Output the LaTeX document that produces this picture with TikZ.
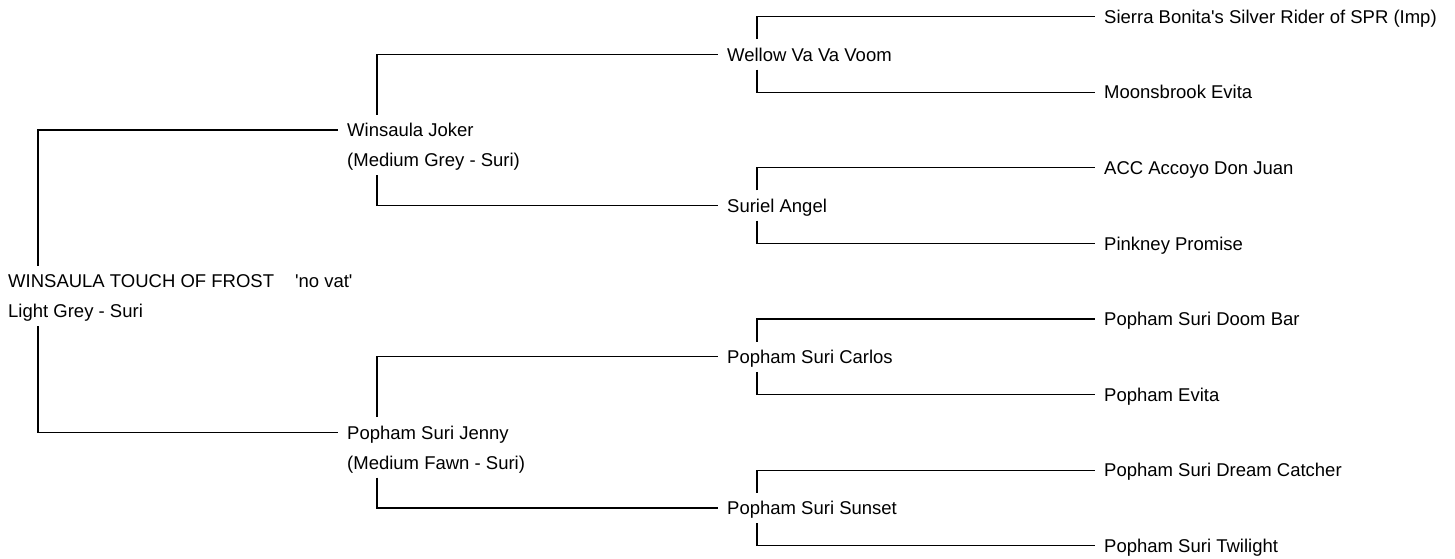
\documentclass[tikz,border=0pt]{standalone}
\usepackage{fontspec}
\setmainfont{Liberation Sans}[Ligatures=TeXOff]
\usepackage{tikz}

\begin{document}
\begin{tikzpicture}[x=1pt, y=-1pt,
        horse/.style={anchor=west, inner xsep=0pt, inner ysep=8.3pt, text height=13.4pt, text depth=0pt, font=\fontsize{18.5}{22}\selectfont},
        link/.style={line width=1.2pt, shorten >=9pt}]
        \useasboundingbox (0,0) rectangle (1455,558);

        \node [horse] (frost) at (8,281.1) {WINSAULA TOUCH OF FROST\hspace{21pt}'no vat'};
        \node [horse] (frostc) at ([yshift=-30pt]frost.west) {Light Grey - Suri};

        \node [horse] (joker) at (347,129.9) {Winsaula Joker};
        \node [horse] (jokerc) at ([yshift=-30pt]joker.west) {(Medium Grey - Suri)};
        \node [horse] (jenny) at (347,432.3) {Popham Suri Jenny};
        \node [horse] (jennyc) at ([yshift=-30pt]jenny.west) {(Medium Fawn - Suri)};

        \node [horse] (wellow) at (727,54.3) {Wellow Va Va Voom};
        \node [horse] (suriel) at (727,205.5) {Suriel Angel};
        \node [horse] (carlos) at (727,356.7) {Popham Suri Carlos};
        \node [horse] (sunset) at (727,507.9) {Popham Suri Sunset};

        \node [horse] (sierra) at (1104,16.5) {Sierra Bonita's Silver Rider of SPR (Imp)};
        \node [horse] (moons) at (1104,92.1) {Moonsbrook Evita};
        \node [horse] (donjuan) at (1104,167.7) {ACC Accoyo Don Juan};
        \node [horse] (pinkney) at (1104,243.3) {Pinkney Promise};
        \node [horse] (doombar) at (1104,318.9) {Popham Suri Doom Bar};
        \node [horse] (evita) at (1104,394.5) {Popham Evita};
        \node [horse] (dream) at (1104,470.1) {Popham Suri Dream Catcher};
        \node [horse] (twilight) at (1104,545.7) {Popham Suri Twilight};

        \draw [link] ([xshift=30pt]frost.north west) |- (joker.west);
        \draw [link] ([xshift=30pt]frostc.south west) |- (jenny.west);

        \draw [link] ([xshift=30pt]joker.north west) |- (wellow.west);
        \draw [link] ([xshift=30pt]jokerc.south west) |- (suriel.west);
        \draw [link] ([xshift=30pt]jenny.north west) |- (carlos.west);
        \draw [link] ([xshift=30pt]jennyc.south west) |- (sunset.west);

        \draw [link] ([xshift=30pt]wellow.north west) |- (sierra.west);
        \draw [link] ([xshift=30pt]wellow.south west) |- (moons.west);
        \draw [link] ([xshift=30pt]suriel.north west) |- (donjuan.west);
        \draw [link] ([xshift=30pt]suriel.south west) |- (pinkney.west);
        \draw [link] ([xshift=30pt]carlos.north west) |- (doombar.west);
        \draw [link] ([xshift=30pt]carlos.south west) |- (evita.west);
        \draw [link] ([xshift=30pt]sunset.north west) |- (dream.west);
        \draw [link] ([xshift=30pt]sunset.south west) |- (twilight.west);
    \end{tikzpicture}
\end{document}
